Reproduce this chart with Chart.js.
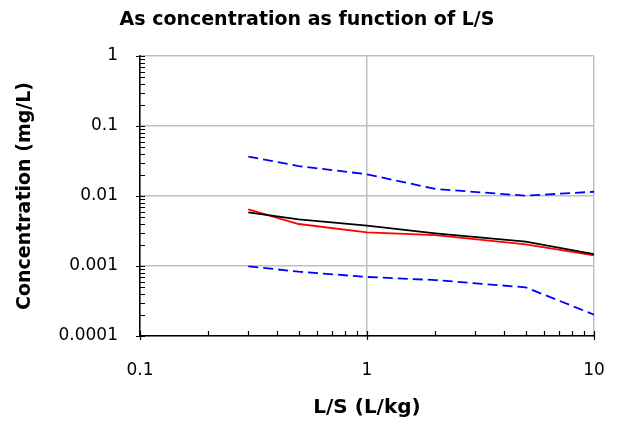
<!DOCTYPE html>
<html>
<head>
<meta charset="utf-8">
<script src="https://cdn.jsdelivr.net/npm/chart.js@4/dist/chart.umd.min.js"></script>
<style>
  html, body { margin: 0; padding: 0; background: #fff; }
  #wrap { width: 617px; height: 428px; }
</style>
</head>
<body>
<div id="wrap"><canvas id="chart"></canvas></div>
<script>
const lsValues = [0.3, 0.5, 1, 2, 5, 10];
const upperBound = [0.0365, 0.0268, 0.0204, 0.0126, 0.0101, 0.0115];
const medianConc = [0.00585, 0.00465, 0.00377, 0.00293, 0.00223, 0.00148];
const measuredConc = [0.00646, 0.00398, 0.00303, 0.00277, 0.00204, 0.00142];
const lowerBound = [0.00099, 0.00083, 0.000697, 0.00063, 0.000495, 0.000202];

const xTicks = [0.1, 1, 10];
const xTickLabels = ["0.1", "1", "10"];
const yTicks = [0.0001, 0.001, 0.01, 0.1, 1];
const yTickLabels = ["0.0001", "0.001", "0.01", "0.1", "1"];

const chartTitle = "As concentration as function of L/S";
const xTitle = "L/S (L/kg)";
const yTitle = "Concentration (mg/L)";

const FONT = "'DejaVu Sans', Verdana, sans-serif";

function toPoints(ys) {
    return lsValues.map((x, i) => ({ x: x, y: ys[i] }));
}

// title + log minor/major tick marks like the spreadsheet chart
const decorPlugin = {
    id: "decor",
    afterDraw(chart) {
        const ctx = chart.ctx;
        const xs = chart.scales.x;
        const ys = chart.scales.y;
        const area = chart.chartArea;

        ctx.save();
        ctx.fillStyle = "#000";
        ctx.font = "bold 19px " + FONT;
        ctx.textAlign = "center";
        ctx.textBaseline = "middle";
        ctx.fillText(chartTitle, 307, 20);

        ctx.strokeStyle = "#000";
        ctx.lineWidth = 1.2;
        ctx.beginPath();
        for (let i = 0; i < yTicks.length - 1; i++) {
            for (let k = 2; k <= 9; k++) {
                const py = Math.round(ys.getPixelForValue(yTicks[i] * k)) + 0.5;
                ctx.moveTo(area.left, py);
                ctx.lineTo(area.left + 5, py);
            }
        }
        yTicks.forEach(v => {
            const py = Math.round(ys.getPixelForValue(v)) + 0.5;
            ctx.moveTo(area.left - 4, py);
            ctx.lineTo(area.left + 5, py);
        });
        for (let i = 0; i < xTicks.length - 1; i++) {
            for (let k = 2; k <= 9; k++) {
                const px = Math.round(xs.getPixelForValue(xTicks[i] * k)) + 0.5;
                ctx.moveTo(px, area.bottom);
                ctx.lineTo(px, area.bottom - 5);
            }
        }
        xTicks.forEach(v => {
            const px = Math.round(xs.getPixelForValue(v)) + 0.5;
            ctx.moveTo(px, area.bottom + 4);
            ctx.lineTo(px, area.bottom - 5);
        });
        ctx.stroke();
        ctx.restore();
    }
};

new Chart(document.getElementById("chart"), {
    type: "line",
    data: {
        datasets: [
            {
                label: "Upper",
                data: toPoints(upperBound),
                borderColor: "#0000ff",
                borderWidth: 1.8,
                borderDash: [10, 5],
                pointRadius: 0,
                fill: false
            },
            {
                label: "Median",
                data: toPoints(medianConc),
                borderColor: "#000000",
                borderWidth: 1.8,
                pointRadius: 0,
                fill: false
            },
            {
                label: "Measured",
                data: toPoints(measuredConc),
                borderColor: "#ff0000",
                borderWidth: 1.8,
                pointRadius: 0,
                fill: false
            },
            {
                label: "Lower",
                data: toPoints(lowerBound),
                borderColor: "#0000ff",
                borderWidth: 1.8,
                borderDash: [10, 5],
                pointRadius: 0,
                fill: false
            }
        ]
    },
    options: {
        responsive: true,
        maintainAspectRatio: false,
        animation: false,
        layout: {
            padding: { top: 56, right: 23, left: 0, bottom: 0 }
        },
        plugins: {
            legend: { display: false },
            tooltip: { enabled: false },
            title: { display: false }
        },
        scales: {
            x: {
                type: "logarithmic",
                min: 0.1,
                max: 10,
                afterBuildTicks: scale => {
                    scale.ticks = xTicks.map(v => ({ value: v }));
                },
                afterFit: scale => {
                    scale.height = 92;
                    scale.paddingLeft = 0;
                    scale.paddingRight = 0;
                },
                ticks: {
                    color: "#000",
                    font: { family: FONT, size: 17 },
                    padding: 24,
                    maxRotation: 0,
                    callback: (value) => {
                        const i = xTicks.indexOf(value);
                        return i >= 0 ? xTickLabels[i] : "";
                    }
                },
                grid: {
                    color: "#c0c0c0",
                    lineWidth: 1.5,
                    drawTicks: false
                },
                border: { color: "#000", width: 1.5 },
                title: {
                    display: true,
                    text: xTitle,
                    color: "#000",
                    font: { family: FONT, size: 20, weight: "bold" },
                    padding: { top: 0, bottom: 8 }
                }
            },
            y: {
                type: "logarithmic",
                min: 0.0001,
                max: 1,
                afterBuildTicks: scale => {
                    scale.ticks = yTicks.map(v => ({ value: v }));
                },
                afterFit: scale => {
                    scale.width = 140;
                    scale.paddingTop = 0;
                    scale.paddingBottom = 0;
                },
                ticks: {
                    color: "#000",
                    font: { family: FONT, size: 17 },
                    padding: 22,
                    callback: (value) => {
                        const i = yTicks.indexOf(value);
                        return i >= 0 ? yTickLabels[i] : "";
                    }
                },
                grid: {
                    color: "#c0c0c0",
                    lineWidth: 1.5,
                    drawTicks: false
                },
                border: { color: "#000", width: 1.5 },
                title: {
                    display: true,
                    text: yTitle,
                    color: "#000",
                    font: { family: FONT, size: 19, weight: "bold" },
                    padding: { top: 14, bottom: 0 }
                }
            }
        }
    },
    plugins: [decorPlugin]
});
</script>
</body>
</html>
